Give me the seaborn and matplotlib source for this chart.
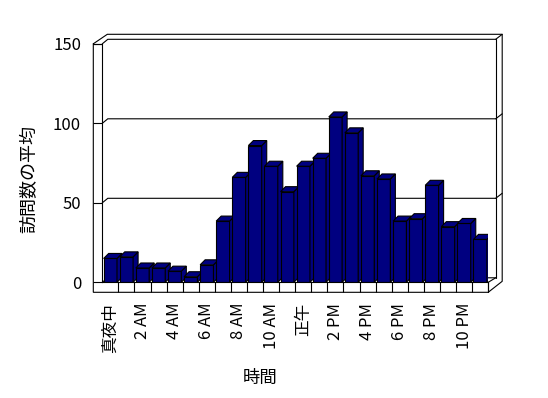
import numpy as np
import pandas as pd
import matplotlib
matplotlib.use("Agg")
import matplotlib.pyplot as plt
from matplotlib.patches import Polygon
from matplotlib.lines import Line2D
import seaborn as sns

hours = ["真夜中", "1 AM", "2 AM", "3 AM", "4 AM", "5 AM", "6 AM", "7 AM",
         "8 AM", "9 AM", "10 AM", "11 AM", "正午", "1 PM", "2 PM", "3 PM",
         "4 PM", "5 PM", "6 PM", "7 PM", "8 PM", "9 PM", "10 PM", "11 PM"]
visits = [15, 16, 9, 9, 7, 3.5, 11, 38.5, 66, 86, 73, 57,
          73, 78, 104, 94, 67, 65, 38.5, 40, 61, 35, 37, 27]
tick_labels = ["真夜中", "2 AM", "4 AM", "6 AM", "8 AM", "10 AM",
               "正午", "2 PM", "4 PM", "6 PM", "8 PM", "10 PM"]
y_ticks = [0, 50, 100, 150]

W, H = 548, 398
sns.set_style("white", {"text.color": "black", "xtick.color": "black",
                        "ytick.color": "black", "axes.edgecolor": "black"})
plt.rcParams["font.family"] = ["Noto Sans CJK JP", "DejaVu Sans"]

fig = plt.figure(figsize=(W / 100, H / 100), dpi=100)
# front plane of the box, pixels from the top-left corner
left, right, bottom, top = 102.3, 488.2, 282.3, 43.8
ax = fig.add_axes([left / W, 1 - bottom / H, (right - left) / W, (bottom - top) / H])
ax.patch.set_visible(False)

df = pd.DataFrame({"hour": hours, "visits": visits})
sns.barplot(data=df, x="hour", y="visits", color="#000080", saturation=1,
            width=0.83, edgecolor="black", linewidth=0.8, ax=ax)
ax.set_xlim(-0.5, 23.5)
ax.set_ylim(0, 150)
ax.set_xlabel("")
ax.set_ylabel("")

# fake 3-D depth on every bar
sx = (right - left) / 24
sy = (bottom - top) / 150
bdx, bdy = 5 / sx, 5 / sy
for i, p in enumerate(list(ax.patches)):
    x0, w, h = p.get_x(), p.get_width(), p.get_height()
    z = 2 + i * 0.01
    p.set_zorder(z)
    side = Polygon([(x0 + w, 0), (x0 + w + bdx, bdy), (x0 + w + bdx, h + bdy), (x0 + w, h)],
                   closed=True, facecolor="#000080", edgecolor="black", lw=0.8, zorder=z + 0.005)
    cap = Polygon([(x0, h), (x0 + bdx, h + bdy), (x0 + w + bdx, h + bdy), (x0 + w, h)],
                  closed=True, facecolor="#000080", edgecolor="black", lw=0.8, zorder=z + 0.005)
    ax.add_patch(side)
    ax.add_patch(cap)

for s in ["top", "right"]:
    ax.spines[s].set_visible(False)
for s in ["left", "bottom"]:
    ax.spines[s].set_linewidth(0.8)

ax.set_yticks(y_ticks)
ax.tick_params(axis="y", left=True, length=6.7, width=0.8, pad=8.6, labelsize=12, direction="out")
ax.set_xticks(range(0, 24, 2), labels=tick_labels)
ax.set_xticks(np.arange(0.5, 24, 1), minor=True)
ax.tick_params(axis="x", which="major", length=0, pad=14.9, labelsize=12, labelrotation=90)
ax.tick_params(axis="x", which="minor", bottom=True, length=7.2, width=0.8, direction="out")


def frame(pts):
    xs = [p[0] / W for p in pts]
    ys = [1 - p[1] / H for p in pts]
    fig.add_artist(Line2D(xs, ys, transform=fig.transFigure, color="black",
                          lw=0.8, zorder=-1, solid_joinstyle="miter"))


# back wall grid lines with their wall corners
for v in y_ticks:
    yf = bottom - v * sy
    frame([(left, yf), (left + 5.5, yf - 4.5), (right + 7.5, yf - 4.5)])
    if v > 0:
        frame([(right + 7.5, yf - 4.5), (right + 14, yf - 9.5)])
frame([(right, bottom), (right + 7.5, bottom - 4.5)])
frame([(right + 7.5, bottom - 4.5), (right + 7.5, top - 4.5)])
# outer box
frame([(left - 9, top), (left, top)])
frame([(left - 9, top), (left - 9, bottom + 10), (right, bottom + 10),
       (right + 14, bottom - 1), (right + 14, top - 9.5), (left + 5, top - 9.5), (left - 9, top)])
frame([(right, bottom), (right, bottom + 10)])

fig.text(29 / W, 1 - 179 / H, "訪問数の平均", rotation=90, ha="center", va="center", fontsize=13)
fig.text(260 / W, 1 - 378 / H, "時間", ha="center", va="center", fontsize=12.5)

fig.savefig("out.png", dpi=100)
